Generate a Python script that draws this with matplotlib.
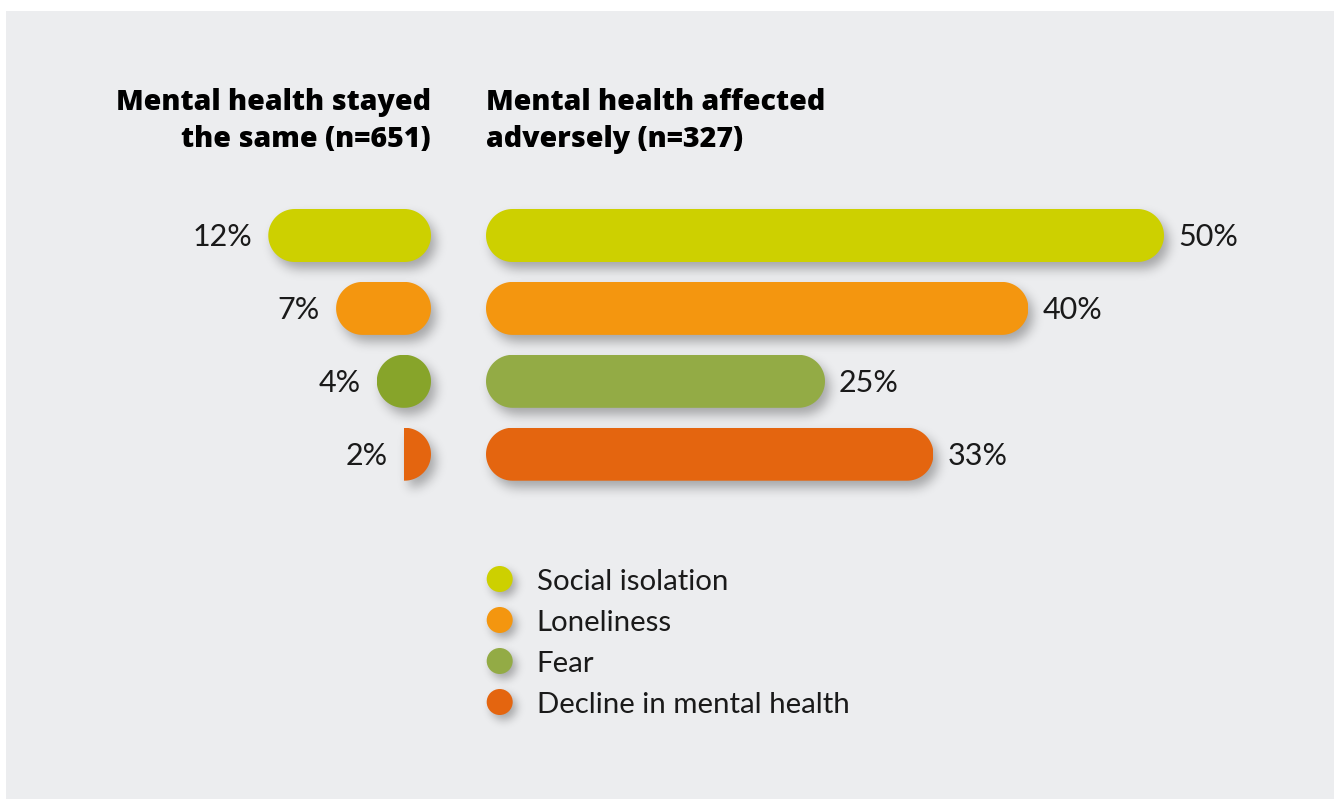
import numpy as np
import matplotlib
matplotlib.use("Agg")
import matplotlib.pyplot as plt
from matplotlib.patches import Polygon, Rectangle, Circle


# ---------------------------------------------
# data
# ---------------------------------------------
categories = ["Social isolation", "Loneliness", "Fear", "Decline in mental health"]
same_values = [12, 7, 4, 2]          # mental health stayed the same (n=651)
adverse_values = [50, 40, 25, 33]    # mental health affected adversely (n=327)

same_title = ["Mental health stayed", "the same (n=651)"]
adverse_title = ["Mental health affected", "adversely (n=327)"]

colors = ["#CDD000", "#F4960F", "#93AB45", "#E4650F"]
same_colors = ["#CDD000", "#F4960F", "#87A42A", "#E4650F"]

# ---------------------------------------------
# layout (pixels on a 1334 x 799 canvas)
# ---------------------------------------------
W, H = 1334, 799
PX_PER_PCT = 13.56
ROW_PX = 72.9
BAR_PX = 53
FIRST_ROW_Y = 235.5

BG = "#ECEDEF"
TEXT = "#1A1A1A"
FONT = "Lato"
TITLE_FONT = "Open Sans"

plt.rcParams["font.family"] = [FONT, "DejaVu Sans"]


def blur(a, sigma):
    r = int(3 * sigma)
    k = np.exp(-0.5 * (np.arange(-r, r + 1) / sigma) ** 2)
    k /= k.sum()
    a = np.apply_along_axis(lambda v: np.convolve(v, k, mode="same"), 0, a)
    a = np.apply_along_axis(lambda v: np.convolve(v, k, mode="same"), 1, a)
    return a


class DropShadow:
    """agg filter: soft blurred shadow offset down/right"""

    def __init__(self, sigma=5.5, alpha=0.3, dx=5, dy=7):
        self.sigma = sigma
        self.alpha = alpha
        self.dx = dx
        self.dy = dy

    def __call__(self, im, dpi):
        pad = int(3 * self.sigma + max(abs(self.dx), abs(self.dy))) + 2
        a = np.pad(im[:, :, 3], pad)
        a = blur(a * self.alpha, self.sigma)
        a = np.roll(a, self.dy, axis=0)
        a = np.roll(a, self.dx, axis=1)
        out = np.zeros(a.shape + (4,))
        out[..., 3] = np.clip(a, 0, 1)
        return out, -pad, -pad


def px_axes(fig, left, top, width, height):
    ax = fig.add_axes([left / W, 1 - (top + height) / H, width / W, height / H])
    ax.set_facecolor("none")
    ax.axis("off")
    return ax


def pill_points(value, row, rx, ry, n=40):
    w = max(value, 2 * rx)
    t1 = np.linspace(-np.pi / 2, np.pi / 2, n)
    t2 = np.linspace(np.pi / 2, 3 * np.pi / 2, n)
    right = np.column_stack([w - rx + rx * np.cos(t1), row + ry * np.sin(t1)])
    left = np.column_stack([rx + rx * np.cos(t2), row + ry * np.sin(t2)])
    return np.vstack([right, left])


def draw_bars(ax, values, cols, label_side):
    hb = BAR_PX / ROW_PX
    ry = hb / 2
    rx = (BAR_PX / 2) / PX_PER_PCT
    shadow = DropShadow()
    fs = 22
    for i, (v, c) in enumerate(zip(values, cols)):
        pts = pill_points(v, i, rx, ry)
        sh = Polygon(pts, closed=True, facecolor="black", edgecolor="none", zorder=1)
        sh.set_agg_filter(shadow)
        ax.add_patch(sh)
        bar = Polygon(pts, closed=True, facecolor=c, edgecolor="none", zorder=2)
        ax.add_patch(bar)
        # short bars: keep only the part of the pill up to the value
        for p in (sh, bar):
            p.set_clip_path(Rectangle((0, i - ry), v, hb, transform=ax.transData))
        dx = 10 if label_side == "right" else -11.5
        ax.annotate(f"{v}%", (v, i), xytext=(dx, -0.36 * fs), textcoords="offset points",
                    ha="left" if label_side == "right" else "right", va="baseline",
                    fontsize=fs, color=TEXT, zorder=3)


fig = plt.figure(figsize=(W / 100, H / 100), dpi=100)
fig.patch.set_facecolor("white")
fig.patches.append(Rectangle((6 / W, 0), 1, 1 - 11 / H, transform=fig.transFigure,
                             facecolor=BG, edgecolor="none", zorder=-1))

top_px, height_px = 190, 310
y_top = (top_px - FIRST_ROW_Y) / ROW_PX
y_bot = (top_px + height_px - FIRST_ROW_Y) / ROW_PX

# left panel grows leftwards from x = 431 px
ax_l = px_axes(fig, 100, top_px, 331, height_px)
ax_l.set_xlim(331 / PX_PER_PCT, 0)
ax_l.set_ylim(y_bot, y_top)
draw_bars(ax_l, same_values, same_colors, "left")

# right panel grows rightwards from x = 486 px
ax_r = px_axes(fig, 486, top_px, 840, height_px)
ax_r.set_xlim(0, 840 / PX_PER_PCT)
ax_r.set_ylim(y_bot, y_top)
draw_bars(ax_r, adverse_values, colors, "right")

# titles
for k, (a, b) in enumerate(zip(same_title, adverse_title)):
    y = 1 - (110 + 37 * k) / H
    fig.text(431 / W, y, a, ha="right", va="baseline", fontsize=20.5,
             fontweight="heavy", color="black", family=[TITLE_FONT, "DejaVu Sans"])
    fig.text(486 / W, y, b, ha="left", va="baseline", fontsize=20.5,
             fontweight="heavy", color="black", family=[TITLE_FONT, "DejaVu Sans"])

# legend
ax_leg = px_axes(fig, 470, 550, 420, 180)
ax_leg.set_xlim(0, 420)
ax_leg.set_ylim(180, 0)
leg_fs = 21.2
for i, (name, c) in enumerate(zip(categories, colors)):
    cy = 29 + 41 * i
    sh = Circle((29.7, cy), 13, facecolor="black", edgecolor="none", zorder=1)
    sh.set_agg_filter(DropShadow(sigma=4.5, alpha=0.3, dx=4, dy=5))
    ax_leg.add_patch(sh)
    ax_leg.add_patch(Circle((29.7, cy), 13, facecolor=c, edgecolor="none", zorder=2))
    ax_leg.text(66.7, cy + 0.36 * leg_fs * 100 / 72, name, ha="left", va="baseline",
                fontsize=leg_fs, color=TEXT)

fig.savefig("out.png", dpi=100, facecolor="white")
